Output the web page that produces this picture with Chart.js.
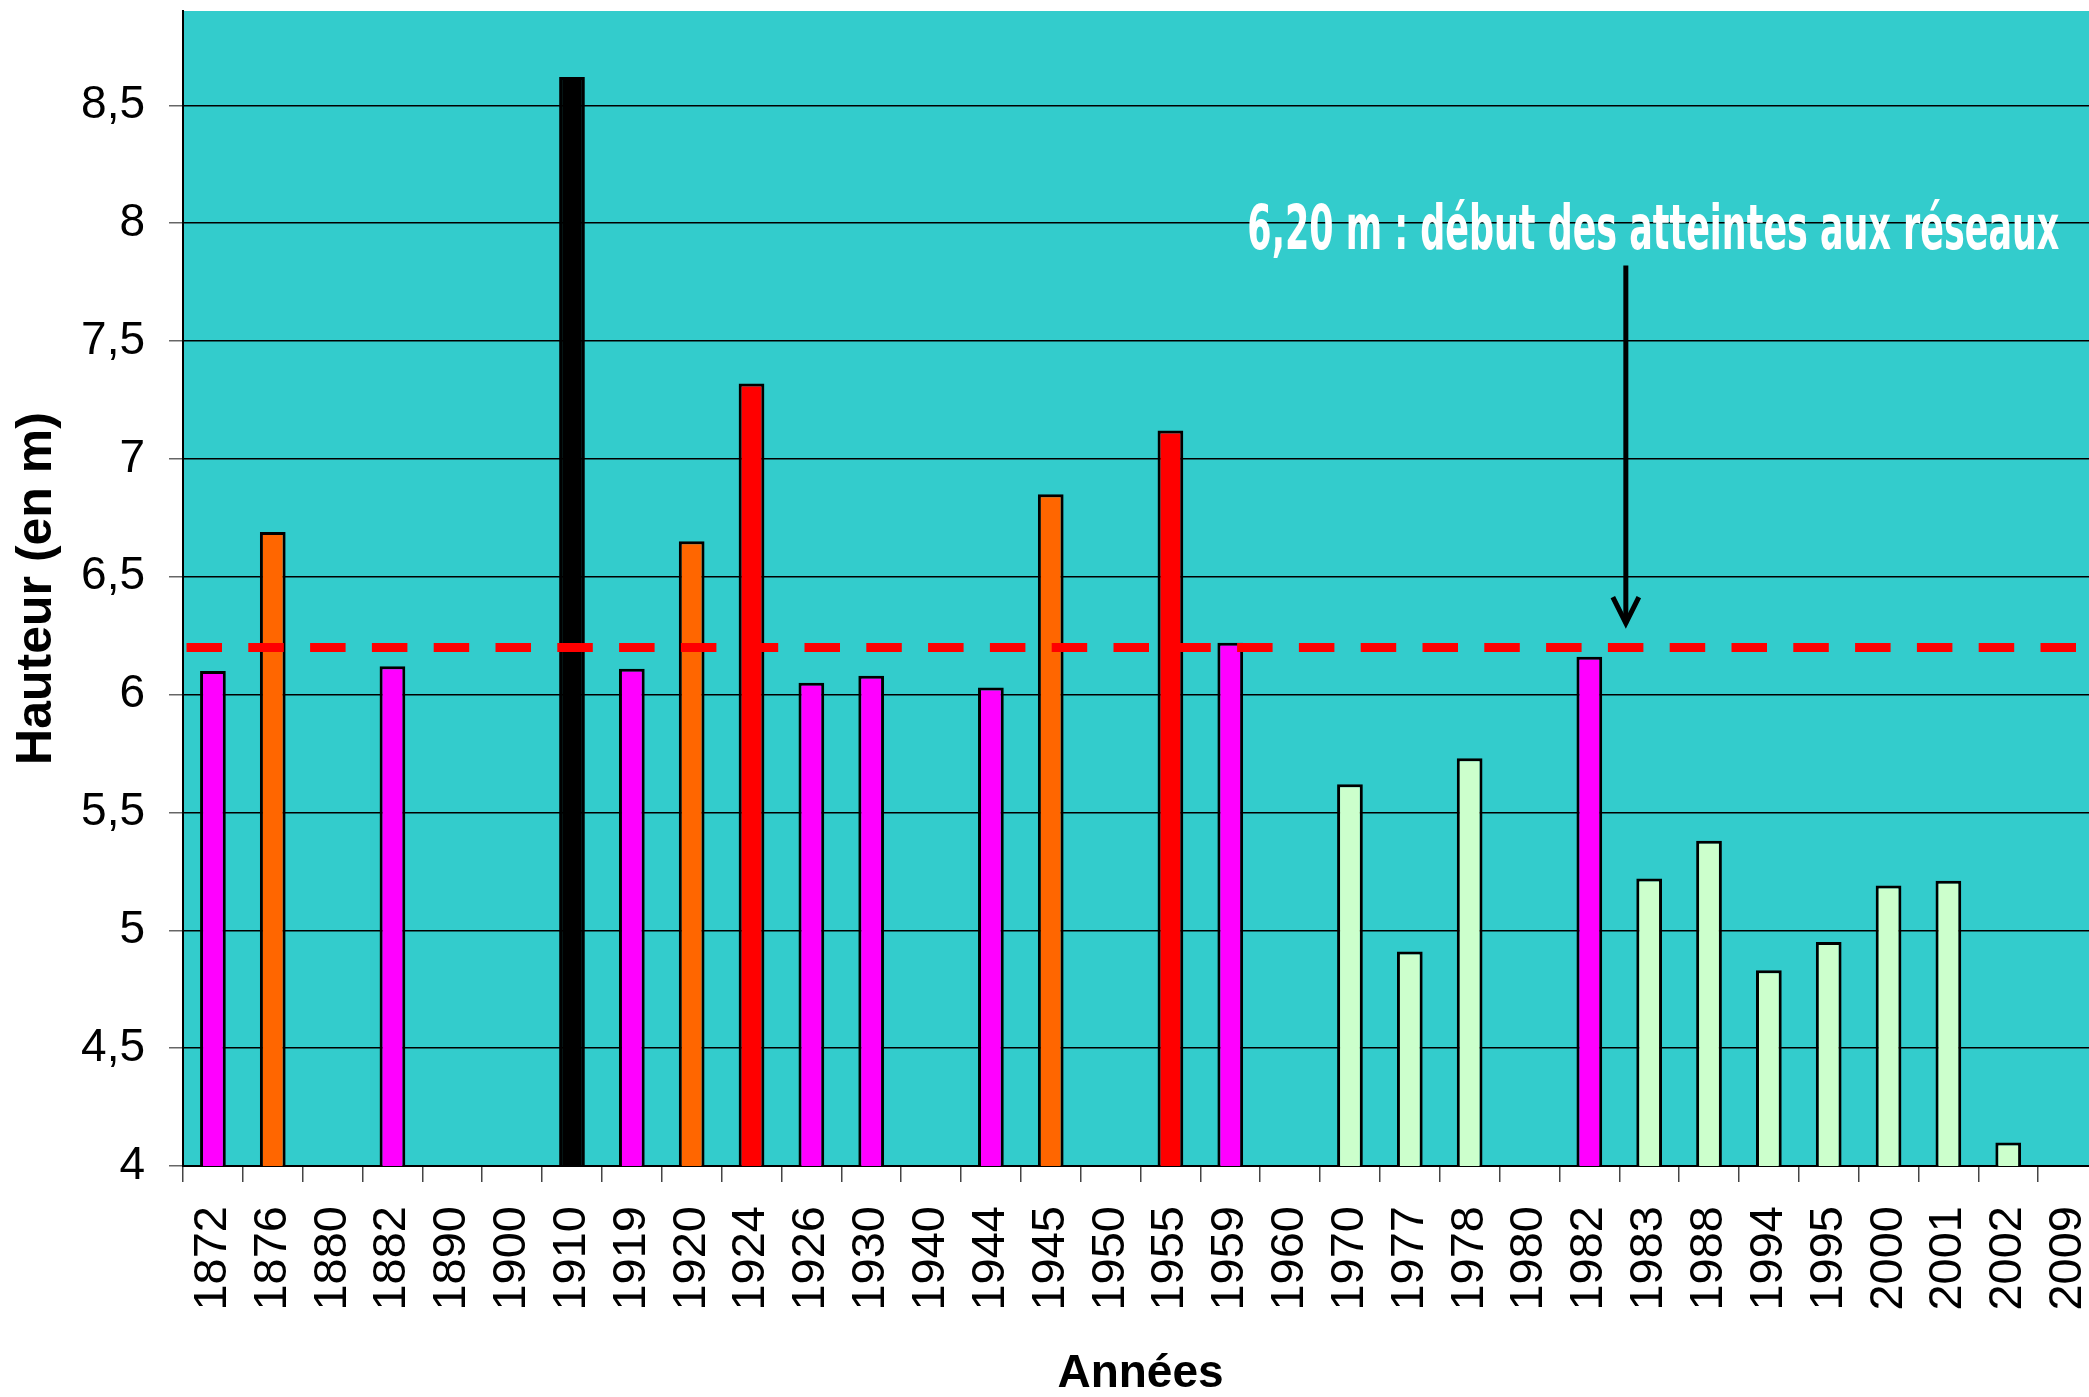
<!DOCTYPE html>
<html lang="fr">
<head>
<meta charset="utf-8">
<title>Hauteur des crues</title>
<script src="https://cdn.jsdelivr.net/npm/chart.js@4/dist/chart.umd.min.js"></script>
<style>
  html, body { margin: 0; padding: 0; background: #ffffff; overflow: hidden; }
  #wrap { width: 2098px; height: 1397px; }
</style>
</head>
<body>
<div id="wrap"><canvas id="c" width="2098" height="1397"></canvas></div>
<script>
// Années de crue (axe des catégories)
const annees = ['1872','1876','1880','1882','1890','1900','1910','1919','1920','1924',
                '1926','1930','1940','1944','1945','1950','1955','1959','1960','1970',
                '1977','1978','1980','1982','1983','1988','1994','1995','2000','2001',
                '2002','2009'];

// Hauteur maximale atteinte (m), null = pas de valeur
const hauteurs = [6.10, 6.69, null, 6.12, null, null, 8.62, 6.11, 6.65, 7.32,
                  6.05, 6.08, null, 6.03, 6.85, null, 7.12, 6.22, null, 5.62,
                  4.91, 5.73, null, 6.16, 5.22, 5.38, 4.83, 4.95, 5.19, 5.21,
                  4.10, null];

// Classe de chaque crue (détermine la couleur de la barre)
const classes = ['m','o',null,'m',null,null,'n','m','o','r',
                 'm','m',null,'m','o',null,'r','m',null,'v',
                 'v','v',null,'m','v','v','v','v','v','v',
                 'v',null];

// Graduations de l'axe vertical
const graduations = [4, 4.5, 5, 5.5, 6, 6.5, 7, 7.5, 8, 8.5];

// Seuil d'atteinte aux réseaux
const seuil = 6.2;
const seuilTexte = '6,20 m : début des atteintes aux réseaux';

const palette = { m: '#FF00FF', o: '#FF6600', r: '#FF0000', n: '#000000', v: '#CCFFCC' };

const fondTraceur = '#33CCCC';
const policeTexte = '"Liberation Sans", Arial, sans-serif';

// Fond, ligne de seuil, flèche et légende du seuil
const repere = {
  id: 'repere',
  beforeDraw(chart) {
    const { ctx, chartArea: a } = chart;
    ctx.save();
    ctx.fillStyle = fondTraceur;
    ctx.fillRect(a.left, a.top, a.right - a.left, a.bottom - a.top);
    ctx.restore();
  },
  afterDatasetsDraw(chart) {
    const { ctx, chartArea: a, scales: { x, y } } = chart;
    const ys = y.getPixelForValue(seuil);

    // ligne de seuil en tirets
    ctx.save();
    ctx.strokeStyle = '#FF0000';
    ctx.lineWidth = 9;
    ctx.setLineDash([35.5, 26.3]);
    ctx.beginPath();
    ctx.moveTo(a.left + 3.5, ys);
    ctx.lineTo(a.right, ys);
    ctx.stroke();
    ctx.restore();

    // flèche vers le seuil
    const xf = x.getPixelForValue(23.61);
    const yHaut = y.getPixelForValue(7.82);
    const yBas = y.getPixelForValue(6.29);
    ctx.save();
    ctx.strokeStyle = '#000000';
    ctx.lineWidth = 5;
    ctx.beginPath();
    ctx.moveTo(xf, yHaut);
    ctx.lineTo(xf, yBas - 3);
    ctx.stroke();
    ctx.lineJoin = 'miter';
    ctx.beginPath();
    ctx.moveTo(xf - 13, yBas - 29);
    ctx.lineTo(xf, yBas - 3);
    ctx.lineTo(xf + 13, yBas - 29);
    ctx.stroke();
    ctx.restore();

    // texte du seuil, en caractères étroits
    const xt = x.getPixelForValue(24.07);
    const yt = y.getPixelForValue(7.89);
    ctx.save();
    ctx.font = 'bold 62px "Liberation Sans Narrow", "DejaVu Sans Condensed", "Liberation Sans", sans-serif';
    const w = ctx.measureText(seuilTexte).width;
    const largeur = 812;
    ctx.translate(xt, yt);
    ctx.scale(largeur / w, 1);
    ctx.fillStyle = '#FFFFFF';
    ctx.textAlign = 'center';
    ctx.textBaseline = 'alphabetic';
    ctx.fillText(seuilTexte, 0, 0);
    ctx.restore();
  }
};

new Chart(document.getElementById('c'), {
  type: 'bar',
  data: {
    labels: annees,
    datasets: [{
      label: 'Hauteur',
      data: hauteurs,
      backgroundColor: classes.map(c => c ? palette[c] : 'transparent'),
      borderColor: '#000000',
      borderWidth: 3,
      barPercentage: 0.43,
      categoryPercentage: 1
    }]
  },
  options: {
    responsive: false,
    devicePixelRatio: 1,
    animation: false,
    layout: { padding: { top: 11, left: 0, right: 0, bottom: 0 } },
    plugins: { legend: { display: false }, tooltip: { enabled: false } },
    scales: {
      x: {
        type: 'category',
        offset: true,
        grid: { offset: true, drawOnChartArea: false, drawTicks: true, tickLength: 16, tickColor: '#444444', lineWidth: 1.5 },
        border: { display: true, color: '#000000', width: 2 },
        ticks: {
          autoSkip: false, minRotation: 90, maxRotation: 90, padding: 24,
          color: '#000000', font: { family: policeTexte, size: 47 }
        },
        title: {
          display: true, text: 'Années', color: '#000000',
          font: { family: policeTexte, size: 46, weight: 'bold', lineHeight: 1 },
          padding: { top: 0, bottom: 0 }
        },
        afterFit(scale) {
          scale.height = 231;
          scale.paddingLeft = 0;
          scale.paddingRight = 0;
        }
      },
      y: {
        min: 4,
        max: 8.9,
        grid: { color: '#000000', lineWidth: 1.5, tickLength: 14, tickColor: '#666666', drawTicks: true },
        border: { display: true, color: '#000000', width: 2 },
        ticks: {
          stepSize: 0.5, padding: 24, color: '#000000',
          font: { family: policeTexte, size: 46 },
          callback: v => String(v).replace('.', ',')
        },
        afterBuildTicks(scale) {
          scale.ticks = graduations.map(v => ({ value: v }));
        },
        title: {
          display: true, text: 'Hauteur (en m)', color: '#000000',
          font: { family: policeTexte, size: 50, weight: 'bold', lineHeight: 1.2 },
          padding: { top: 7, bottom: 0 }
        },
        afterFit(scale) {
          scale.width = 183;
          scale.paddingTop = 0;
          scale.paddingBottom = 0;
        }
      }
    }
  },
  plugins: [repere]
});
</script>
</body>
</html>
